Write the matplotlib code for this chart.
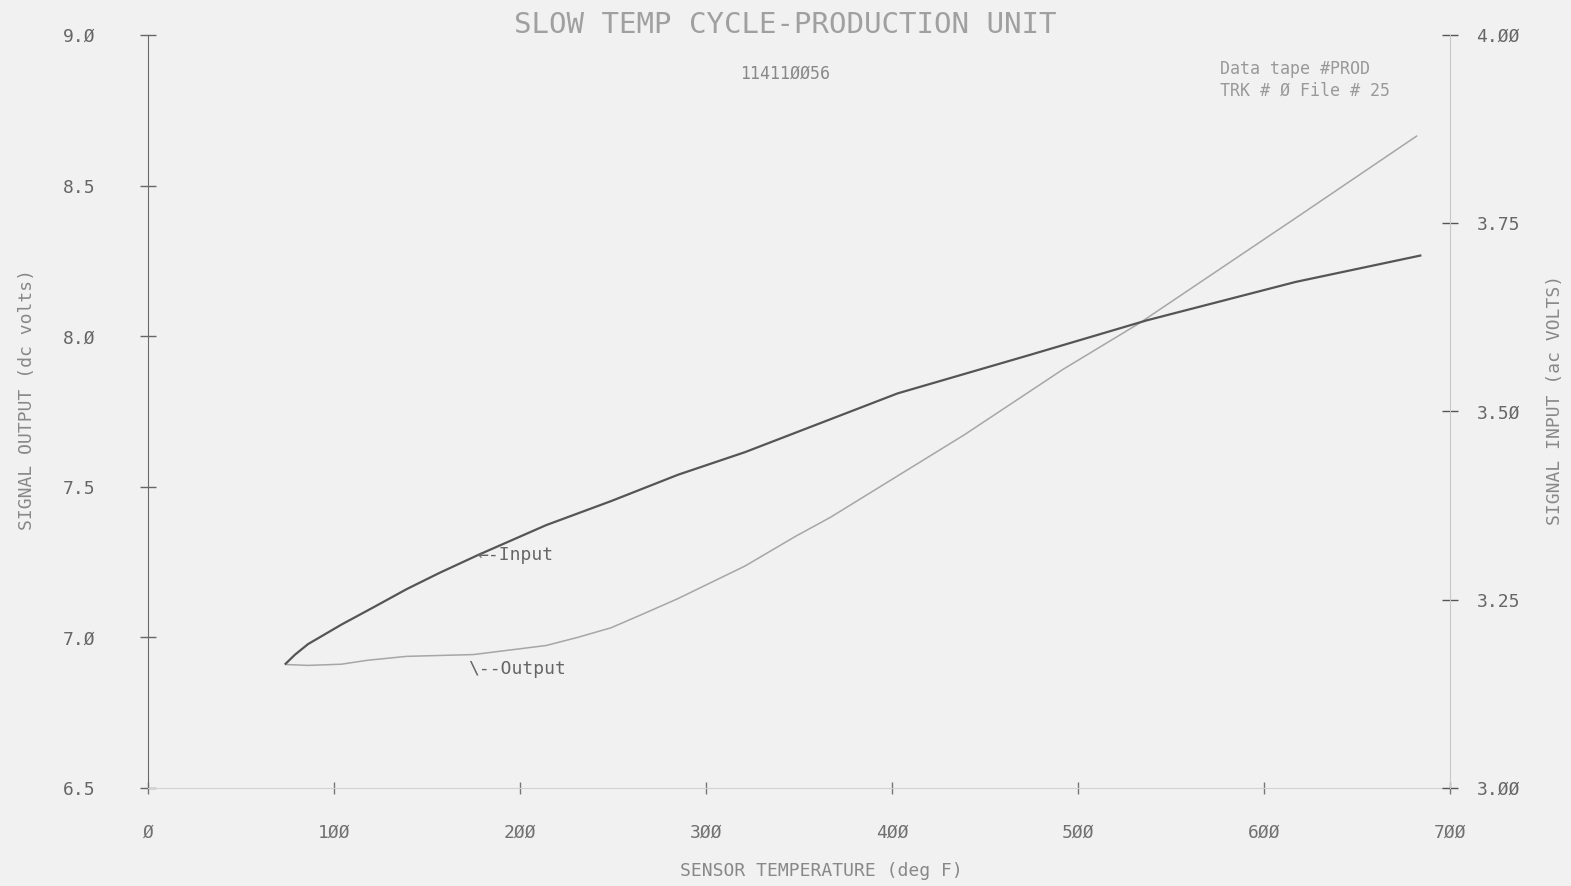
import numpy as np
import matplotlib.pyplot as plt
from matplotlib.ticker import FuncFormatter

# sensor temperature (deg F)
temp_in = [74, 79, 86, 104, 122, 139, 157, 178, 214, 249, 285, 321, 403, 474, 537, 617, 684]
# signal input (ac volts), right axis
sig_in = [3.165, 3.177, 3.191, 3.217, 3.241, 3.264, 3.286, 3.310, 3.349, 3.381,
          3.416, 3.446, 3.524, 3.575, 3.621, 3.672, 3.707]

temp_out = [74, 86, 104, 118, 139, 157, 175, 214, 231, 249, 267, 285, 303, 321,
            348, 367, 439, 492, 533, 617, 682]
# signal output (dc volts), left axis
sig_out = [6.910, 6.907, 6.911, 6.924, 6.937, 6.940, 6.943, 6.973, 7.000, 7.032,
           7.080, 7.129, 7.183, 7.237, 7.335, 7.399, 7.673, 7.890, 8.043, 8.392, 8.664]

x_ticks = [0, 100, 200, 300, 400, 500, 600, 700]
left_ticks = [6.5, 7.0, 7.5, 8.0, 8.5, 9.0]
right_ticks = [3.0, 3.25, 3.5, 3.75, 4.0]

paper = '#f1f1f1'
mono = 'DejaVu Sans Mono'

def slashed(fmt):
    # plotter style slashed zeros
    return FuncFormatter(lambda v, p: (fmt % v).replace('0', '\u00d8'))

fig = plt.figure(figsize=(15.71, 8.86), dpi=100, facecolor=paper)
ax = fig.add_axes([0.0942, 0.1106, 0.8288, 0.85])
ax.set_facecolor(paper)
ax2 = ax.twinx()

ax.plot(temp_out, sig_out, color='#a6a6a6', lw=1.1)
ax2.plot(temp_in, sig_in, color='#555555', lw=1.6)

ax.set_xlim(0, 700)
ax.set_ylim(6.5, 9.0)
ax2.set_ylim(3.0, 4.0)

ax.spines['top'].set_visible(False)
ax2.spines['top'].set_visible(False)
ax.spines['left'].set_color('#6a6a6a')
ax.spines['bottom'].set_color('#d2d2d2')
ax.spines['right'].set_visible(False)
ax2.spines['left'].set_visible(False)
ax2.spines['bottom'].set_visible(False)
ax2.spines['right'].set_color('#c8c8c8')

ax.set_xticks(x_ticks)
ax.set_yticks(left_ticks)
ax2.set_yticks(right_ticks)
ax.xaxis.set_major_formatter(slashed('%d'))
ax.yaxis.set_major_formatter(slashed('%.1f'))
ax2.yaxis.set_major_formatter(slashed('%.2f'))

ax.tick_params(axis='x', direction='inout', length=8, width=1, color='#777777',
               pad=22, labelsize=13, labelcolor='#707070')
ax.tick_params(axis='y', direction='inout', length=12, width=1, color='#666666',
               pad=32, labelsize=13, labelcolor='#666666')
ax2.tick_params(axis='y', direction='inout', length=12, width=1, color='#555555',
                pad=13, labelsize=13, labelcolor='#666666')
for t in ax.get_xticklabels() + ax.get_yticklabels() + ax2.get_yticklabels():
    t.set_family(mono)

# curve labels
ax2.text(177, 3.310, '\u2190-Input', family=mono, fontsize=13, color='#666666',
         ha='left', va='center')
ax.text(172, 6.895, '\\--Output', family=mono, fontsize=13, color='#666666',
        ha='left', va='center')

fig.text(0.4997, 0.972, 'SLOW TEMP CYCLE-PRODUCTION UNIT', family=mono,
         fontsize=21, color='#a0a0a0', ha='center', va='center')
fig.text(0.4997, 0.9165, '11411\u00d8\u00d856', family=mono, fontsize=12,
         color='#888888', ha='center', va='center')
fig.text(0.7766, 0.922, 'Data tape #PROD', family=mono, fontsize=12,
         color='#999999', ha='left', va='center')
fig.text(0.7766, 0.898, 'TRK # \u00d8 File # 25', family=mono, fontsize=12,
         color='#999999', ha='left', va='center')
fig.text(0.523, 0.017, 'SENSOR TEMPERATURE (deg F)', family=mono, fontsize=13,
         color='#888888', ha='center', va='center')
fig.text(0.0172, 0.549, 'SIGNAL OUTPUT (dc volts)', family=mono, fontsize=13,
         color='#888888', ha='center', va='center', rotation=90)
fig.text(0.990, 0.549, 'SIGNAL INPUT (ac VOLTS)', family=mono, fontsize=13,
         color='#888888', ha='center', va='center', rotation=90)

fig.savefig('out.png', dpi=100, facecolor=paper)
